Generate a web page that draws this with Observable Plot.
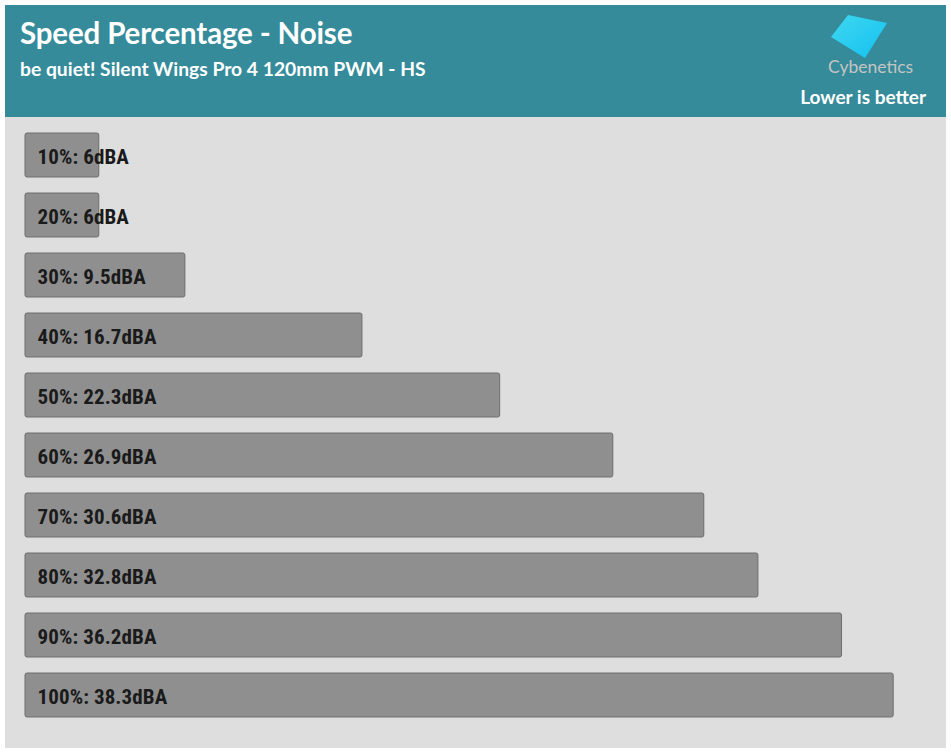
<!DOCTYPE html>
<html>
<head>
<meta charset="utf-8">
<script src="https://cdn.jsdelivr.net/npm/d3@7"></script>
<script src="https://cdn.jsdelivr.net/npm/@observablehq/plot@0.6"></script>
<style>
  html, body { margin: 0; padding: 0; background: #ffffff; }
  #wrap { position: absolute; left: 5px; top: 5px; width: 941px; height: 743px; background: #dedede; }
  #header { position: relative; width: 941px; height: 112px; background: #358b9a; color: #fff; font-family: Lato, "Open Sans", sans-serif; }
  #title { position: absolute; left: 15px; top: 10px; font-size: 29.5px; font-weight: 700; letter-spacing: -0.15px; }
  #subtitle { position: absolute; left: 15px; top: 52px; font-size: 19.3px; font-weight: 700; }
  #lower { position: absolute; right: 20px; top: 80px; font-size: 19px; font-weight: 700; }
  #logo { position: absolute; left: 815px; top: 5px; }
  #chart svg { display: block; }
  #chart text { font-family: "Liberation Sans Narrow", "Roboto Condensed", Roboto, sans-serif; letter-spacing: 0.1px; }
</style>
</head>
<body>
<div id="wrap">
  <div id="header">
    <div id="title">Speed Percentage - Noise</div>
    <div id="subtitle">be quiet! Silent Wings Pro 4 120mm PWM - HS</div>
    <svg id="logo" width="110" height="72">
      <defs>
        <linearGradient id="lg" x1="0" y1="0" x2="1" y2="1">
          <stop offset="0" stop-color="#3fd8f0"/>
          <stop offset="1" stop-color="#14c0f0"/>
        </linearGradient>
      </defs>
      <polygon points="28,5 67,13 45,48 11,27" fill="url(#lg)"/>
      <text x="8" y="63" font-family="Lato, sans-serif" font-size="17.5" font-weight="400" fill="#c4c4c4">Cybenetics</text>
    </svg>
    <div id="lower">Lower is better</div>
  </div>
  <div id="chart"></div>
</div>
<script>
const speeds = ["10%", "20%", "30%", "40%", "50%", "60%", "70%", "80%", "90%", "100%"];
const noise = [6, 6, 9.5, 16.7, 22.3, 26.9, 30.6, 32.8, 36.2, 38.3];
const unit = "dBA";

const data = speeds.map((s, i) => ({speed: s, value: noise[i]}));
const xMin = 3, xMax = 40;

const chart = Plot.plot({
  width: 941,
  height: 631,
  marginLeft: 20,
  marginRight: 11,
  marginTop: 16,
  marginBottom: 31,
  style: {background: "#dedede", overflow: "visible"},
  x: {domain: [xMin, xMax], axis: null},
  y: {domain: speeds, axis: null, paddingInner: 16 / 60, paddingOuter: 0},
  marks: [
    Plot.barX(data, {
      x1: () => xMin,
      x2: "value",
      y: "speed",
      fill: "#8f8f8f",
      stroke: "#6e6e6e",
      strokeWidth: 1,
      rx: 2
    }),
    Plot.text(data, {
      x: () => xMin,
      y: "speed",
      text: d => `${d.speed}: ${d.value}${unit}`,
      textAnchor: "start",
      dx: 12,
      dy: 2,
      fill: "#1a1a1a",
      fontSize: 21,
      fontWeight: 700
    })
  ]
});
document.getElementById("chart").appendChild(chart);
</script>
</body>
</html>
